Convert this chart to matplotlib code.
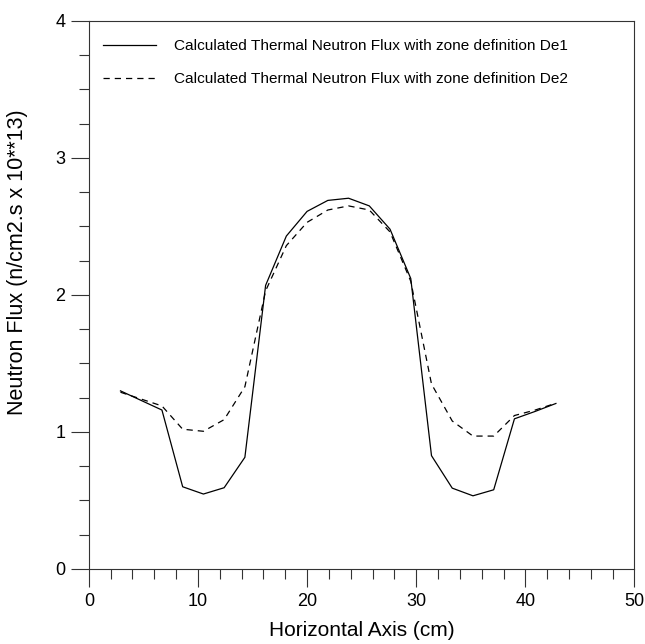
import numpy as np
import matplotlib
matplotlib.use('Agg')
import matplotlib.pyplot as plt
from matplotlib.ticker import MultipleLocator

plt.rcParams['font.family'] = ['Liberation Sans', 'DejaVu Sans']

# positions along the horizontal axis (cm)
x = [2.9, 4.8, 6.7, 8.6, 10.5, 12.4, 14.3, 16.2, 18.1, 20.0, 21.9,
     23.8, 25.7, 27.6, 29.5, 31.4, 33.3, 35.2, 37.1, 39.0, 40.9, 42.8]

# thermal neutron flux, zone definition De1 (solid)
flux_de1 = [1.30, 1.23, 1.16, 0.60, 0.547, 0.593, 0.815, 2.07, 2.43, 2.61, 2.69,
            2.706, 2.65, 2.48, 2.12, 0.827, 0.59, 0.534, 0.578, 1.096, 1.15, 1.208]

# thermal neutron flux, zone definition De2 (dashed)
flux_de2 = [1.29, 1.24, 1.19, 1.02, 1.005, 1.09, 1.33, 2.03, 2.36, 2.53, 2.62,
            2.65, 2.62, 2.46, 2.10, 1.35, 1.08, 0.97, 0.97, 1.12, 1.16, 1.21]

label_de1 = 'Calculated Thermal Neutron Flux with zone definition De1'
label_de2 = 'Calculated Thermal Neutron Flux with zone definition De2'

fig = plt.figure(figsize=(6.45, 6.44), dpi=100)
ax = fig.add_axes([0.1377, 0.1165, 0.846, 0.851])

ax.plot(x, flux_de1, color='black', lw=0.9, label=label_de1)
ax.plot(x, flux_de2, color='black', lw=0.9, ls=(0, (5, 4)), label=label_de2)

ax.set_xlim(0, 50)
ax.set_ylim(0, 4)
ax.xaxis.set_major_locator(MultipleLocator(10))
ax.xaxis.set_minor_locator(MultipleLocator(2))
ax.yaxis.set_major_locator(MultipleLocator(1))
ax.yaxis.set_minor_locator(MultipleLocator(0.25))

ax.tick_params(which='both', direction='out', color='#333333', width=0.8,
               labelsize=13, top=False, right=False)
ax.tick_params(which='major', length=13, pad=4)
ax.tick_params(which='minor', length=7)

for s in ax.spines.values():
    s.set_color('#333333')
    s.set_linewidth(0.8)

ax.set_xlabel('Horizontal Axis (cm)', fontsize=15, labelpad=8)
ax.set_ylabel('Neutron Flux (n/cm2.s x 10**13)', fontsize=15.5)
ax.yaxis.set_label_coords(-0.112, 0.56)

ax.legend(loc='upper left', bbox_to_anchor=(0.0, 0.992), frameon=False,
          fontsize=11.1, handlelength=3.45, handletextpad=1.19,
          labelspacing=1.25, borderaxespad=0.5)

fig.savefig('out.png', dpi=100)
